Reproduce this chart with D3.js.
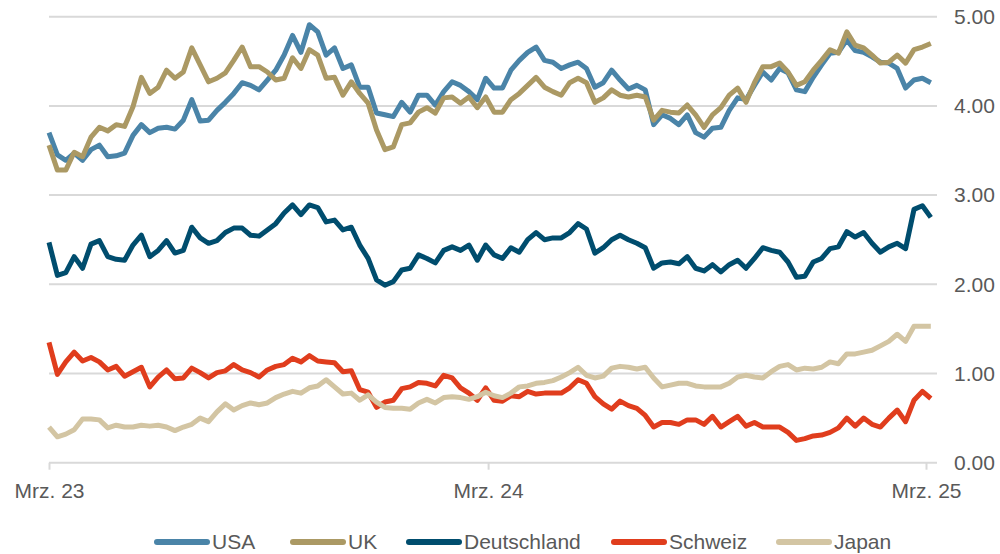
<!DOCTYPE html>
<html><head><meta charset="utf-8">
<script src="https://cdn.jsdelivr.net/npm/d3@7"></script>
<style>
body{margin:0;background:#fff;}
svg{display:block;font-family:"Liberation Sans",Arial,sans-serif;}
</style></head>
<body><svg id="c" width="1000" height="554"></svg>
<script>
const startDate = "2023-03-01";
const nWeeks = 106;
const xTickLabels = ["Mrz. 23","Mrz. 24","Mrz. 25"];
const xTickDates = ["2023-03-01","2024-03-01","2025-03-01"];
const yTicks = [0,1,2,3,4,5];
const seriesNames = ["USA","UK","Deutschland","Schweiz","Japan"];
const seriesColors = ["#4a84a8","#ab9964","#004d6e","#e03d1d","#d3c5a3"];

const usa = [3.70,3.45,3.39,3.47,3.39,3.51,3.56,3.43,3.44,3.47,3.67,3.79,3.70,3.75,3.76,3.74,3.84,4.07,3.83,3.84,3.95,4.04,4.14,4.26,4.23,4.18,4.29,4.40,4.57,4.79,4.60,4.91,4.83,4.57,4.65,4.42,4.46,4.21,4.21,3.92,3.90,3.88,4.04,3.93,4.12,4.12,4.01,4.16,4.27,4.23,4.16,4.07,4.31,4.20,4.20,4.40,4.51,4.60,4.66,4.51,4.49,4.42,4.46,4.49,4.42,4.21,4.26,4.40,4.29,4.19,4.23,4.18,3.79,3.90,3.86,3.79,3.90,3.70,3.65,3.75,3.76,3.95,4.09,4.07,4.23,4.38,4.29,4.42,4.37,4.18,4.16,4.32,4.46,4.59,4.60,4.74,4.62,4.60,4.55,4.49,4.48,4.42,4.20,4.29,4.31,4.26];
const uk = [3.56,3.28,3.28,3.48,3.43,3.65,3.76,3.72,3.79,3.77,3.99,4.32,4.14,4.21,4.40,4.31,4.38,4.65,4.46,4.27,4.31,4.37,4.51,4.66,4.44,4.44,4.38,4.29,4.31,4.54,4.42,4.63,4.57,4.31,4.32,4.12,4.27,4.14,4.03,3.73,3.51,3.54,3.79,3.81,3.93,3.98,3.92,4.09,4.10,4.03,4.10,3.98,4.10,3.93,3.93,4.07,4.14,4.23,4.32,4.21,4.16,4.12,4.26,4.31,4.26,4.04,4.09,4.18,4.12,4.10,4.12,4.10,3.84,3.95,3.93,3.92,4.01,3.90,3.76,3.90,3.98,4.12,4.20,4.04,4.26,4.44,4.44,4.48,4.38,4.23,4.27,4.40,4.51,4.63,4.59,4.83,4.68,4.65,4.57,4.48,4.49,4.57,4.48,4.63,4.66,4.70];
const deutschland = [2.47,2.10,2.13,2.31,2.18,2.45,2.49,2.31,2.28,2.27,2.44,2.55,2.31,2.38,2.49,2.35,2.38,2.64,2.52,2.46,2.49,2.58,2.63,2.63,2.55,2.54,2.61,2.68,2.80,2.89,2.78,2.89,2.86,2.70,2.72,2.61,2.64,2.44,2.29,2.05,1.99,2.03,2.16,2.18,2.33,2.29,2.24,2.38,2.42,2.38,2.44,2.27,2.44,2.33,2.29,2.41,2.36,2.50,2.58,2.50,2.52,2.52,2.58,2.68,2.62,2.35,2.41,2.50,2.55,2.50,2.46,2.41,2.18,2.24,2.25,2.23,2.31,2.18,2.15,2.22,2.14,2.22,2.27,2.18,2.29,2.41,2.38,2.36,2.25,2.08,2.09,2.25,2.29,2.40,2.42,2.59,2.53,2.58,2.46,2.36,2.42,2.46,2.40,2.84,2.88,2.75];
const schweiz = [1.35,0.99,1.13,1.24,1.14,1.18,1.13,1.04,1.08,0.97,1.02,1.07,0.85,0.96,1.04,0.94,0.95,1.06,1.01,0.95,1.01,1.03,1.10,1.04,1.01,0.96,1.04,1.08,1.10,1.17,1.13,1.20,1.14,1.13,1.12,1.02,1.03,0.82,0.79,0.62,0.68,0.70,0.83,0.85,0.90,0.89,0.86,0.98,0.95,0.84,0.78,0.70,0.84,0.70,0.69,0.75,0.74,0.80,0.77,0.78,0.78,0.78,0.84,0.93,0.89,0.74,0.66,0.60,0.69,0.64,0.61,0.53,0.40,0.45,0.45,0.43,0.48,0.48,0.43,0.52,0.40,0.46,0.52,0.41,0.45,0.40,0.40,0.40,0.34,0.25,0.27,0.30,0.31,0.34,0.39,0.50,0.41,0.50,0.43,0.40,0.50,0.59,0.46,0.70,0.80,0.72];
const japan = [0.40,0.29,0.32,0.37,0.49,0.49,0.48,0.39,0.42,0.40,0.40,0.42,0.41,0.42,0.40,0.36,0.40,0.43,0.50,0.46,0.57,0.66,0.59,0.64,0.67,0.65,0.67,0.73,0.77,0.80,0.78,0.84,0.86,0.93,0.85,0.77,0.78,0.70,0.76,0.68,0.62,0.61,0.61,0.60,0.67,0.71,0.67,0.73,0.74,0.73,0.71,0.74,0.79,0.75,0.73,0.78,0.85,0.86,0.89,0.90,0.92,0.96,1.01,1.07,0.98,0.95,0.97,1.06,1.08,1.07,1.05,1.07,0.95,0.85,0.87,0.89,0.89,0.86,0.85,0.85,0.85,0.89,0.96,0.98,0.96,0.95,1.02,1.08,1.10,1.04,1.06,1.05,1.07,1.13,1.11,1.22,1.22,1.24,1.26,1.31,1.36,1.44,1.36,1.53,1.53,1.53];

const seriesValues = [usa, uk, deutschland, schweiz, japan];

const parse = d3.utcParse("%Y-%m-%d");
const d0 = parse(startDate);
const dates = d3.range(nWeeks).map(i => d3.utcDay.offset(d0, i*7));

const svg = d3.select("#c");
const x = d3.scaleUtc().domain([parse(xTickDates[0]), parse(xTickDates[2])]).range([49, 926]);
const y = d3.scaleLinear().domain([0,5]).range([462.7, 16.7]);
const gridRight = 937;
const fontSize = "21px";

// grid
svg.append("g").selectAll("line").data(yTicks.filter(t=>t>0)).join("line")
  .attr("x1", 49).attr("x2", gridRight)
  .attr("y1", d=>y(d)).attr("y2", d=>y(d))
  .attr("stroke", "#d9d9d9").attr("stroke-width", 2);

// x axis
const xAxis = d3.axisBottom(x)
  .tickValues(xTickDates.map(parse))
  .tickFormat((d,i)=>xTickLabels[i])
  .tickSize(7).tickPadding(13);
const gx = svg.append("g").attr("transform", `translate(0,${y(0)})`).call(xAxis);
gx.select(".domain").attr("d", `M49,0H${gridRight}`).attr("stroke","#d9d9d9").attr("stroke-width",2);
gx.selectAll(".tick line").attr("stroke","#d9d9d9").attr("stroke-width",2);
gx.selectAll(".tick text").attr("fill","#595959").style("font-size",fontSize).style("font-family","'Liberation Sans',Arial,sans-serif");

// y axis right
const yAxis = d3.axisRight(y).tickValues(yTicks).tickFormat(d3.format(".2f")).tickSize(0).tickPadding(0);
const gy = svg.append("g").attr("transform", `translate(954,0)`).call(yAxis);
gy.select(".domain").remove();
gy.selectAll(".tick text").attr("fill","#595959").style("font-size",fontSize).style("font-family","'Liberation Sans',Arial,sans-serif");

// lines
const line = d3.line().x((d,i)=>x(dates[i])).y(d=>y(d));
svg.append("g").selectAll("path").data(seriesValues).join("path")
  .attr("d", d=>line(d))
  .attr("fill","none")
  .attr("stroke",(d,i)=>seriesColors[i])
  .attr("stroke-width",5)
  .attr("stroke-linejoin","round");

// legend
const legendX = [154, 290, 406, 611, 776];
const lg = svg.append("g");
seriesNames.forEach((n,i)=>{
  lg.append("line").attr("x1",legendX[i]+3).attr("x2",legendX[i]+53)
    .attr("y1",542).attr("y2",542)
    .attr("stroke",seriesColors[i]).attr("stroke-width",6).attr("stroke-linecap","round");
  lg.append("text").attr("x",legendX[i]+58).attr("y",542).attr("dy","0.35em")
    .attr("fill","#595959").style("font-size",fontSize).text(n);
});
</script></body></html>
